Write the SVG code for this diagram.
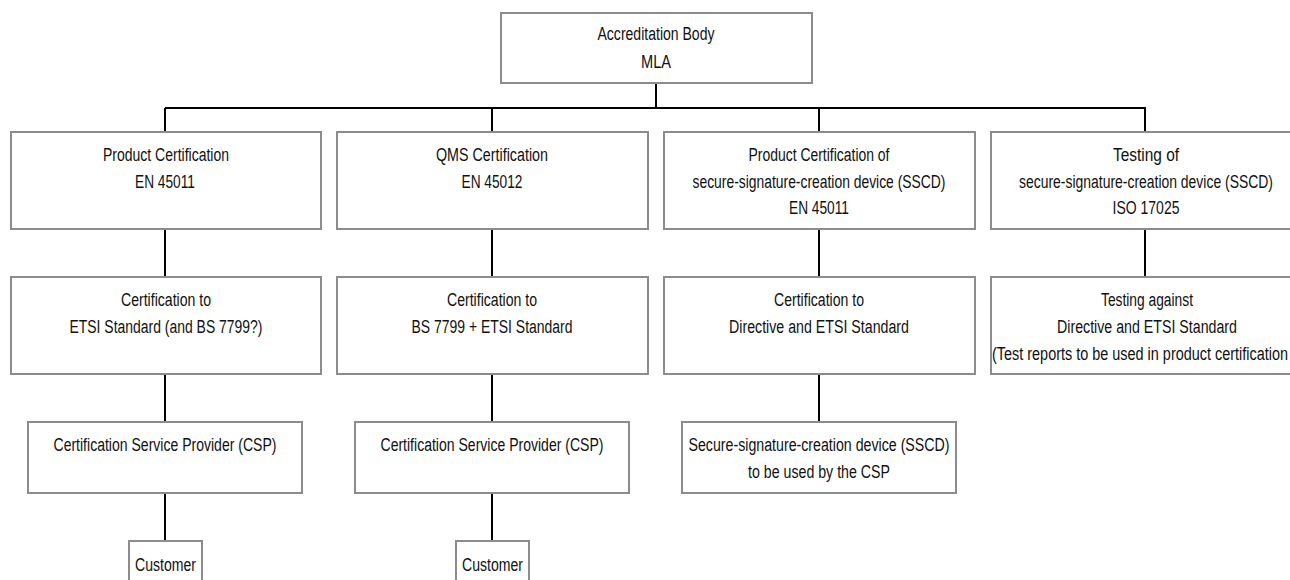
<svg xmlns="http://www.w3.org/2000/svg" width="1290" height="580" viewBox="0 0 1290 580">
<style>
  .box { fill: #ffffff; stroke: #8c8c8c; stroke-width: 2; }
  .conn { stroke: #000000; stroke-width: 2; fill: none; }
  text { font-family: "Liberation Sans", Arial, sans-serif; font-size: 18px; fill: #111111; text-anchor: middle; }
</style>
<rect x="0" y="0" width="1290" height="580" fill="#ffffff"/>
<g id="connectors">
  <line class="conn" x1="656" y1="83" x2="656" y2="108"/>
  <line class="conn" x1="165" y1="108" x2="1146" y2="108"/>
  <line class="conn" x1="165" y1="108" x2="165" y2="132"/>
  <line class="conn" x1="492" y1="108" x2="492" y2="132"/>
  <line class="conn" x1="819" y1="108" x2="819" y2="132"/>
  <line class="conn" x1="1145" y1="107" x2="1145" y2="132"/>
  <line class="conn" x1="165" y1="229" x2="165" y2="277"/>
  <line class="conn" x1="492" y1="229" x2="492" y2="277"/>
  <line class="conn" x1="819" y1="229" x2="819" y2="277"/>
  <line class="conn" x1="1145" y1="229" x2="1145" y2="277"/>
  <line class="conn" x1="165" y1="374" x2="165" y2="422"/>
  <line class="conn" x1="492" y1="374" x2="492" y2="422"/>
  <line class="conn" x1="819" y1="374" x2="819" y2="422"/>
  <line class="conn" x1="165" y1="493" x2="165" y2="541"/>
  <line class="conn" x1="492" y1="493" x2="492" y2="541"/>
</g>
<g id="accreditation">
  <rect class="box" x="501" y="13" width="311" height="70"/>
  <text x="656" y="40" textLength="117" lengthAdjust="spacingAndGlyphs">Accreditation Body</text>
  <text x="656" y="68" textLength="30" lengthAdjust="spacingAndGlyphs">MLA</text>
</g>
<g id="product-cert">
  <rect class="box" x="11" y="132" width="310" height="97"/>
  <text x="166" y="161" textLength="126" lengthAdjust="spacingAndGlyphs">Product Certification</text>
  <text x="165" y="188" textLength="60" lengthAdjust="spacingAndGlyphs">EN 45011</text>
</g>
<g id="qms-cert">
  <rect class="box" x="337" y="132" width="311" height="97"/>
  <text x="492" y="161" textLength="112" lengthAdjust="spacingAndGlyphs">QMS Certification</text>
  <text x="492" y="188" textLength="61" lengthAdjust="spacingAndGlyphs">EN 45012</text>
</g>
<g id="sscd-cert">
  <rect class="box" x="664" y="132" width="311" height="97"/>
  <text x="819" y="161" textLength="141" lengthAdjust="spacingAndGlyphs">Product Certification of</text>
  <text x="819" y="188" textLength="253" lengthAdjust="spacingAndGlyphs">secure-signature-creation device (SSCD)</text>
  <text x="819" y="214" textLength="60" lengthAdjust="spacingAndGlyphs">EN 45011</text>
</g>
<g id="sscd-testing">
  <rect class="box" x="991" y="132" width="310" height="97"/>
  <text x="1146" y="161" textLength="66" lengthAdjust="spacingAndGlyphs">Testing of</text>
  <text x="1146" y="188" textLength="254" lengthAdjust="spacingAndGlyphs">secure-signature-creation device (SSCD)</text>
  <text x="1146" y="214" textLength="67" lengthAdjust="spacingAndGlyphs">ISO 17025</text>
</g>
<g id="cert-etsi">
  <rect class="box" x="11" y="277" width="310" height="97"/>
  <text x="166" y="306" textLength="90" lengthAdjust="spacingAndGlyphs">Certification to</text>
  <text x="166" y="333" textLength="193" lengthAdjust="spacingAndGlyphs">ETSI Standard (and BS 7799?)</text>
</g>
<g id="cert-bs">
  <rect class="box" x="337" y="277" width="311" height="97"/>
  <text x="492" y="306" textLength="90" lengthAdjust="spacingAndGlyphs">Certification to</text>
  <text x="492" y="333" textLength="161" lengthAdjust="spacingAndGlyphs">BS 7799 + ETSI Standard</text>
</g>
<g id="cert-directive">
  <rect class="box" x="664" y="277" width="311" height="97"/>
  <text x="819" y="306" textLength="90" lengthAdjust="spacingAndGlyphs">Certification to</text>
  <text x="819" y="333" textLength="180" lengthAdjust="spacingAndGlyphs">Directive and ETSI Standard</text>
</g>
<g id="testing-against">
  <rect class="box" x="991" y="277" width="310" height="97"/>
  <text x="1147" y="306" textLength="92" lengthAdjust="spacingAndGlyphs">Testing against</text>
  <text x="1147" y="333" textLength="180" lengthAdjust="spacingAndGlyphs">Directive and ETSI Standard</text>
  <text x="992" y="360" style="text-anchor:start" textLength="296" lengthAdjust="spacingAndGlyphs">(Test reports to be used in product certification</text>
</g>
<g id="csp-1">
  <rect class="box" x="28" y="422" width="274" height="71"/>
  <text x="165" y="451" textLength="223" lengthAdjust="spacingAndGlyphs">Certification Service Provider (CSP)</text>
</g>
<g id="csp-2">
  <rect class="box" x="355" y="422" width="274" height="71"/>
  <text x="492" y="451" textLength="223" lengthAdjust="spacingAndGlyphs">Certification Service Provider (CSP)</text>
</g>
<g id="sscd-device">
  <rect class="box" x="682" y="422" width="274" height="71"/>
  <text x="819" y="451" textLength="261" lengthAdjust="spacingAndGlyphs">Secure-signature-creation device  (SSCD)</text>
  <text x="819" y="478" textLength="142" lengthAdjust="spacingAndGlyphs">to be used by the CSP</text>
</g>
<g id="customer-1">
  <rect class="box" x="129" y="541" width="73" height="50"/>
  <text x="165.5" y="571" textLength="61" lengthAdjust="spacingAndGlyphs">Customer</text>
</g>
<g id="customer-2">
  <rect class="box" x="456" y="541" width="73" height="50"/>
  <text x="492.5" y="571" textLength="61" lengthAdjust="spacingAndGlyphs">Customer</text>
</g>
</svg>
